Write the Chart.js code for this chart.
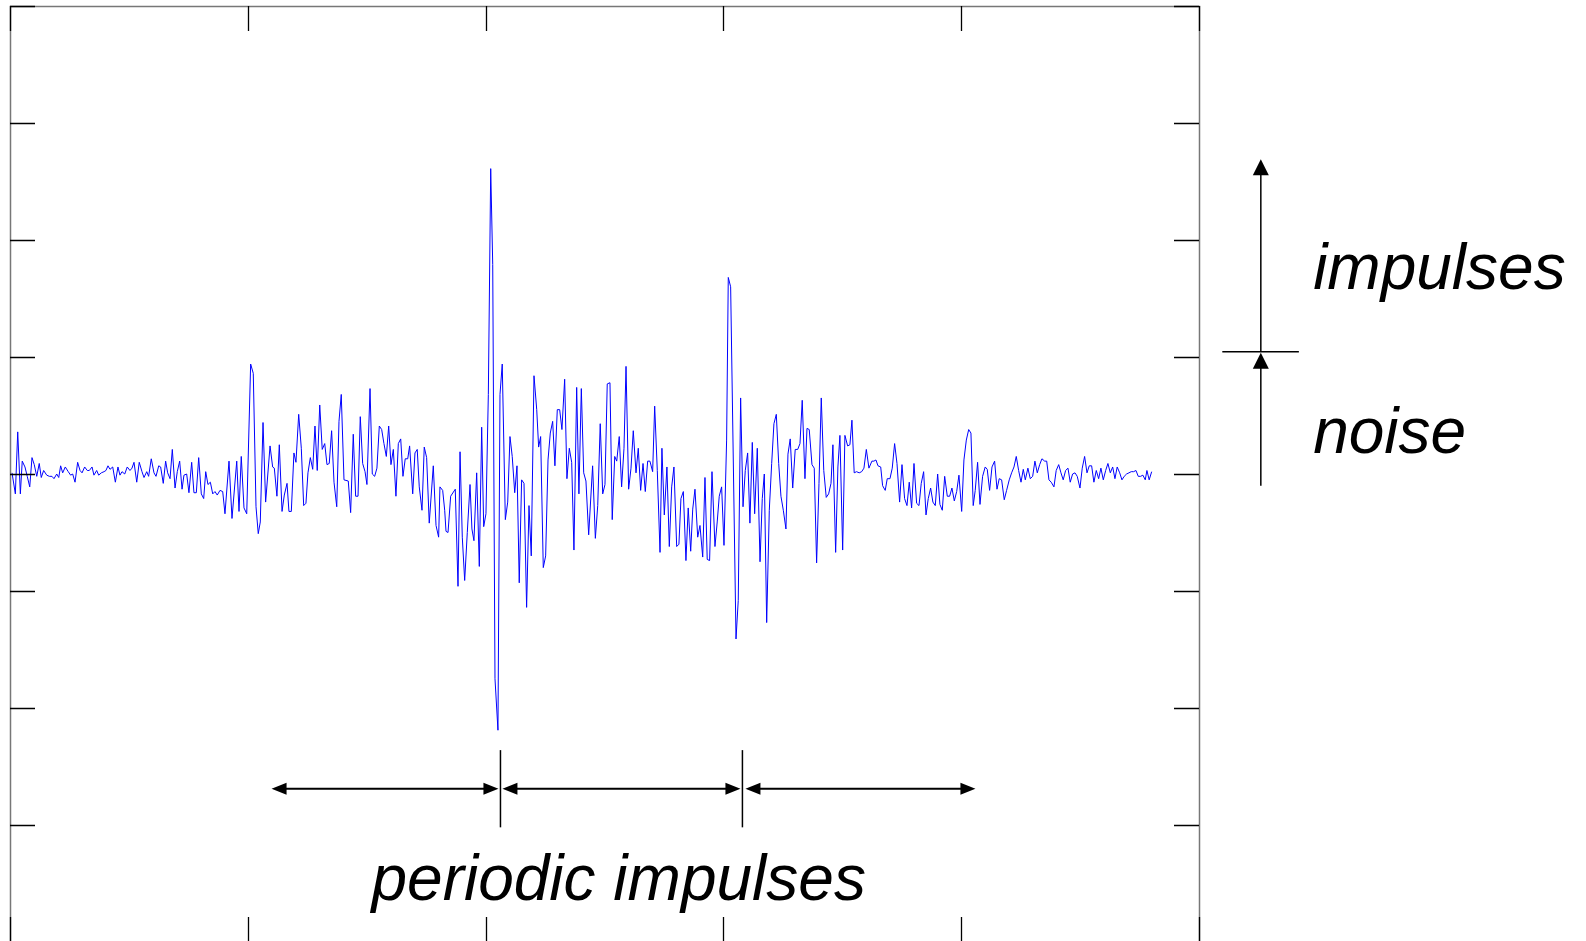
<!DOCTYPE html>
<html>
<head>
<meta charset="utf-8">
<script src="https://cdn.jsdelivr.net/npm/chart.js@4.4.1/dist/chart.umd.min.js"></script>
<style>
html, body { margin: 0; padding: 0; background: #fff; overflow: hidden; }
canvas { display: block; }
</style>
</head>
<body>
<canvas id="signalChart" width="1586" height="944"></canvas>
<script>
// vibration signal: [time, amplitude]
const signal = [
[1.7,0.01],[4.5,-0.17],[6.5,0.36],[8.7,-0.17],[10.3,0.11],[12.6,0.06],[14.5,-0.02],[16.6,-0.11],[18.5,0.14],[20.4,0.08],
[22.5,-0.02],[24.6,0.09],[26.3,-0.03],[28.3,0.03],[30.9,-0.01],[33.1,-0.02],[35.3,-0.02],[37.0,-0.04],[39.3,0.00],[41.0,-0.03],
[42.6,0.07],[44.3,0.01],[46.5,0.06],[49.0,0.02],[51.0,-0.01],[52.7,0.00],[54.7,-0.07],[56.9,0.10],[58.9,0.03],[60.6,0.01],
[62.8,0.06],[65.0,0.03],[66.7,0.03],[69.0,0.06],[70.6,-0.01],[72.9,0.03],[74.6,-0.01],[76.8,0.01],[79.1,0.02],[80.7,0.03],
[82.4,0.07],[84.1,0.04],[86.4,0.06],[88.6,-0.07],[90.8,0.06],[92.5,-0.01],[94.2,0.02],[96.5,0.00],[98.6,0.06],[100.9,0.03],
[102.6,0.05],[104.3,0.10],[106.6,-0.07],[108.7,0.10],[111.0,0.02],[112.7,-0.03],[115.0,0.02],[116.6,-0.02],[118.8,0.13],[121.1,0.01],
[122.8,-0.02],[125.1,0.07],[126.7,0.06],[128.9,-0.08],[130.9,0.11],[132.6,0.01],[134.6,-0.04],[136.5,0.21],[138.8,-0.12],[140.7,0.02],
[142.7,0.11],[144.7,-0.13],[146.3,-0.01],[148.6,0.00],[150.5,-0.16],[152.8,0.10],[154.7,-0.16],[156.7,-0.16],[158.7,0.14],[160.9,-0.17],
[162.9,-0.21],[164.6,0.02],[166.5,-0.09],[168.5,-0.07],[170.5,-0.17],[172.4,-0.15],[174.3,-0.18],[176.6,-0.14],[178.9,-0.15],[180.8,-0.34],
[184.2,0.11],[186.7,-0.38],[190.7,0.11],[192.6,-0.32],[194.5,0.15],[196.8,-0.29],[199.1,-0.34],[202.4,0.94],[204.6,0.86],[206.9,-0.28],
[208.8,-0.51],[210.5,-0.41],[212.8,0.44],[215.0,-0.24],[218.7,0.24],[220.9,0.06],[222.3,0.05],[224.5,-0.19],[226.5,0.25],[228.8,-0.32],
[230.7,-0.18],[233.0,-0.08],[234.6,-0.32],[236.6,-0.32],[238.8,0.18],[240.5,0.10],[242.8,0.51],[245.0,0.22],[247.0,-0.27],[248.9,-0.25],
[250.6,0.01],[252.6,0.14],[254.6,0.04],[256.5,0.41],[258.4,0.03],[260.5,0.59],[262.6,0.21],[264.7,0.26],[266.6,0.08],[268.5,0.09],
[270.5,0.37],[272.5,-0.07],[274.8,-0.28],[276.7,0.45],[278.6,0.68],[280.9,-0.05],[284.5,-0.06],[286.5,-0.33],[288.7,0.34],[290.7,-0.19],
[292.7,-0.19],[294.6,0.49],[296.6,0.09],[298.6,0.02],[300.2,-0.09],[302.8,0.73],[304.7,0.00],[306.7,-0.02],[308.6,0.05],[310.6,0.41],
[312.6,0.38],[314.5,0.26],[316.5,0.15],[318.5,0.41],[320.4,0.08],[322.4,0.21],[324.6,-0.19],[326.6,0.26],[328.6,0.30],[330.5,-0.02],
[332.4,0.13],[334.5,0.13],[336.1,0.24],[338.7,-0.17],[340.6,0.18],[342.5,0.21],[344.2,-0.11],[346.5,-0.31],[348.4,0.23],[350.4,0.14],
[352.6,-0.42],[356.0,0.07],[358.3,-0.44],[360.5,-0.54],[361.6,-0.11],[363.9,-0.14],[365.6,-0.31],[366.7,-0.49],[368.4,-0.50],[370.6,-0.19],
[374.5,-0.13],[376.8,-0.96],[378.5,0.19],[380.4,-0.54],[382.4,-0.91],[384.6,-0.50],[386.9,-0.09],[388.5,-0.47],[390.2,-0.57],[392.5,0.01],
[394.7,-0.79],[396.7,0.40],[398.4,-0.45],[400.3,-0.34],[402.3,0.68],[404.3,2.61],[406.0,1.79],[407.9,-1.75],[410.4,-2.19],[412.1,0.68],
[414.0,0.94],[416.6,-0.39],[418.6,-0.24],[420.5,0.32],[422.4,0.15],[424.5,-0.16],[426.4,0.07],[428.3,-0.93],[430.3,-0.05],[432.3,-0.08],
[434.5,-1.14],[436.5,-0.27],[438.4,-0.70],[440.7,0.84],[443.0,0.55],[444.6,0.23],[446.3,0.32],[448.5,-0.80],[450.5,-0.70],[452.5,0.12],
[454.4,0.35],[456.4,0.45],[458.3,0.07],[460.3,0.55],[462.3,0.55],[464.2,0.38],[466.5,0.81],[468.4,-0.04],[470.4,0.22],[472.4,0.10],
[474.3,-0.65],[476.6,0.74],[478.5,-0.17],[480.5,0.73],[482.5,0.01],[484.4,-0.06],[486.7,-0.52],[490.0,0.07],[492.3,-0.55],[494.3,-0.27],
[496.4,0.43],[498.5,-0.17],[500.4,-0.09],[502.3,0.77],[504.6,0.78],[506.5,-0.39],[508.6,0.15],[510.3,0.11],[512.4,0.32],[514.4,-0.11],
[516.4,0.22],[518.1,0.92],[520.3,-0.13],[522.3,0.05],[524.2,0.37],[526.5,0.01],[528.4,0.22],[530.4,-0.14],[532.4,0.09],[534.3,-0.15],
[536.3,0.11],[538.2,0.11],[540.5,0.02],[542.2,0.58],[544.4,0.03],[546.7,-0.67],[548.3,0.22],[550.3,-0.35],[552.5,0.06],[554.5,-0.62],
[556.5,-0.11],[558.4,0.06],[560.7,-0.62],[562.6,-0.60],[564.3,-0.21],[566.3,-0.15],[568.5,-0.74],[570.4,-0.29],[572.5,-0.66],[574.2,-0.30],
[576.1,-0.13],[578.4,-0.54],[580.3,-0.44],[582.6,-0.71],[584.5,-0.03],[586.4,-0.73],[588.4,-0.74],[590.4,0.02],[592.9,-0.62],[594.8,-0.41],
[596.5,-0.19],[598.5,-0.11],[600.5,-0.61],[602.7,0.29],[604.1,1.68],[606.1,1.60],[610.6,-1.41],[612.5,-1.08],[614.5,0.65],[616.5,-0.28],
[618.4,0.03],[620.4,0.18],[622.3,-0.42],[624.3,0.27],[626.3,-0.34],[628.5,0.22],[630.8,-0.75],[632.7,-0.21],[634.4,0.00],[636.4,-1.27],
[638.6,-0.31],[640.6,0.09],[642.5,0.43],[644.5,0.51],[646.5,0.09],[648.4,-0.19],[650.4,-0.31],[652.6,-0.47],[654.3,0.17],[656.2,0.30],
[658.3,-0.12],[660.4,0.21],[662.5,0.21],[664.4,0.26],[666.3,0.63],[668.6,-0.04],[670.3,0.39],[672.2,0.38],[674.5,0.08],[676.4,0.05],
[678.4,-0.76],[680.4,-0.08],[682.3,0.65],[684.4,0.03],[686.5,-0.20],[688.5,-0.17],[690.5,-0.08],[692.1,0.25],[694.4,-0.67],[696.3,0.06],
[698.0,0.33],[700.3,-0.65],[702.2,0.33],[704.5,0.24],[706.4,0.25],[708.1,0.46],[710.0,0.01],[712.0,0.02],[714.2,0.01],[716.3,0.02],
[718.2,0.05],[720.2,0.21],[722.4,0.05],[724.9,0.11],[726.6,0.11],[728.3,0.12],[730.0,0.07],[732.3,0.06],[733.9,-0.10],[736.1,-0.14],
[737.8,-0.04],[740.1,-0.04],[742.0,0.05],[744.0,0.26],[746.0,0.09],[748.2,-0.24],[750.2,0.08],[752.4,-0.21],[754.4,-0.27],[756.3,-0.07],
[758.3,-0.29],[760.3,0.09],[762.5,-0.25],[764.5,-0.27],[766.4,-0.08],[768.4,0.02],[770.4,-0.35],[772.3,-0.21],[774.3,-0.12],[776.2,-0.24],
[778.2,-0.27],[780.2,0.00],[782.1,-0.26],[784.1,-0.31],[786.1,-0.02],[788.3,-0.19],[790.3,-0.19],[792.2,-0.12],[794.2,-0.23],[796.2,-0.15],
[798.1,-0.01],[800.4,-0.32],[802.3,0.12],[804.3,0.29],[806.3,0.38],[808.2,0.35],[810.1,-0.27],[811.8,-0.14],[813.8,0.10],[815.8,-0.26],
[818.0,-0.02],[820.2,0.06],[821.9,0.04],[823.9,-0.14],[825.9,0.06],[828.1,0.11],[830.1,-0.13],[832.0,-0.04],[834.0,-0.05],[836.2,-0.22],
[838.2,-0.14],[840.4,-0.05],[842.4,0.01],[844.4,0.06],[846.3,0.15],[848.3,0.03],[850.3,-0.07],[852.2,0.04],[853.9,-0.05],[856.1,0.05],
[858.1,-0.04],[860.1,-0.02],[862.0,0.11],[864.0,0.01],[866.0,0.08],[867.9,0.13],[870.2,0.11],[871.9,0.11],[873.8,-0.05],[875.7,-0.07],
[878.0,-0.11],[879.9,0.03],[882.0,0.08],[883.9,0.01],[885.8,-0.05],[887.8,0.03],[889.8,0.05],[891.7,-0.07],[893.7,0.00],[895.7,0.01],
[897.6,-0.02],[899.9,-0.12],[901.8,0.05],[903.8,0.15],[905.8,0.01],[907.7,0.07],[909.7,0.07],[911.6,-0.07],[913.6,0.03],[915.6,-0.04],
[917.5,0.05],[919.5,-0.05],[921.5,0.03],[923.4,0.09],[925.4,0.01],[927.4,0.06],[929.3,-0.04],[931.2,0.06],[933.3,0.01],[935.2,-0.05],
[937.1,-0.02],[939.1,0.00],[941.1,0.01],[943.0,0.02],[945.0,0.02],[947.0,0.03],[948.9,-0.02],[950.9,-0.02],[952.8,-0.01],[954.8,-0.05],
[956.2,0.03],[958.1,-0.05],[960.2,0.02]
];

// axis ticks (no labels shown)
const xTicks = [0, 200, 400, 600, 800, 1000];
const yTicks = [-4, -3, -2, -1, 0, 1, 2, 3, 4];

// period annotation (data units)
const periodMarks = [412.5, 616];
const periodSpan = [220, 812];
const periodLevel = -2.69;
const periodMarkRange = [-2.36, -3.02];

// level annotation on the right
const levelX = 1052;
const levelLine = [1019.6, 1084];
const impulseTop = 2.69;
const noiseTop = 1.045;
const noiseBottom = -0.1;

const labelText = ['impulses', 'noise', 'periodic impulses'];
const labelX = [1096, 1096, 304];
const labelY = [1.58, 0.18, -3.64];

const frameTicks = {
  id: 'frameTicks',
  afterDatasetsDraw(chart) {
    const { ctx, chartArea: a, scales: { x, y } } = chart;
    ctx.save();
    ctx.strokeStyle = '#777';
    ctx.lineWidth = 1.5;
    ctx.strokeRect(a.left + 0.5, a.top + 0.5, a.right - a.left, a.bottom - a.top);

    ctx.strokeStyle = '#000';
    ctx.lineWidth = 1.3;
    ctx.beginPath();
    xTicks.forEach(v => {
      const px = Math.round(x.getPixelForValue(v)) + 0.5;
      ctx.moveTo(px, a.top); ctx.lineTo(px, a.top + 25);
      ctx.moveTo(px, a.bottom); ctx.lineTo(px, a.bottom - 25);
    });
    yTicks.forEach(v => {
      const py = Math.round(y.getPixelForValue(v)) + 0.5;
      ctx.moveTo(a.left, py); ctx.lineTo(a.left + 25, py);
      ctx.moveTo(a.right, py); ctx.lineTo(a.right - 25, py);
    });
    ctx.stroke();
    ctx.restore();
  }
};

// filled arrow head with tip at (tx, ty) pointing along angle
function arrowHead(ctx, tx, ty, angle, len, half) {
  ctx.beginPath();
  ctx.moveTo(tx, ty);
  ctx.lineTo(tx - len * Math.cos(angle) + half * Math.sin(angle), ty - len * Math.sin(angle) - half * Math.cos(angle));
  ctx.lineTo(tx - len * Math.cos(angle) - half * Math.sin(angle), ty - len * Math.sin(angle) + half * Math.cos(angle));
  ctx.closePath();
  ctx.fill();
}

function line(ctx, x1, y1, x2, y2) {
  ctx.beginPath();
  ctx.moveTo(x1, y1);
  ctx.lineTo(x2, y2);
  ctx.stroke();
}

const notes = {
  id: 'notes',
  afterDraw(chart) {
    const { ctx, scales: { x, y } } = chart;
    ctx.save();
    ctx.strokeStyle = '#000';
    ctx.fillStyle = '#000';

    // periodic impulses arrows
    const yl = y.getPixelForValue(periodLevel);
    const m1 = x.getPixelForValue(periodMarks[0]);
    const m2 = x.getPixelForValue(periodMarks[1]);
    const segs = [
      [x.getPixelForValue(periodSpan[0]), m1 - 2],
      [m1 + 2, m2 - 2],
      [m2 + 3, x.getPixelForValue(periodSpan[1])]
    ];
    ctx.lineWidth = 2;
    segs.forEach(([s, e]) => {
      line(ctx, s + 10, yl, e - 10, yl);
      arrowHead(ctx, s, yl, Math.PI, 15, 6);
      arrowHead(ctx, e, yl, 0, 15, 6);
    });
    ctx.lineWidth = 1.5;
    periodMarks.forEach(v => {
      const px = x.getPixelForValue(v);
      line(ctx, px, y.getPixelForValue(periodMarkRange[0]), px, y.getPixelForValue(periodMarkRange[1]));
    });

    // impulse / noise level arrows
    const lx = x.getPixelForValue(levelX);
    const yTop = y.getPixelForValue(impulseTop);
    const yMid = y.getPixelForValue(noiseTop);
    const yBot = y.getPixelForValue(noiseBottom);
    ctx.lineWidth = 1.5;
    line(ctx, lx, yMid, lx, yTop + 10);
    arrowHead(ctx, lx, yTop, -Math.PI / 2, 16, 8);
    line(ctx, lx, yBot, lx, yMid + 10);
    arrowHead(ctx, lx, yMid + 1, -Math.PI / 2, 16, 8);
    line(ctx, x.getPixelForValue(levelLine[0]), yMid, x.getPixelForValue(levelLine[1]), yMid);

    // labels
    ctx.font = 'italic 64px "Liberation Sans", Arial, sans-serif';
    ctx.textBaseline = 'alphabetic';
    ctx.textAlign = 'left';
    labelText.forEach((t, i) => {
      ctx.fillText(t, x.getPixelForValue(labelX[i]), y.getPixelForValue(labelY[i]));
    });
    ctx.restore();
  }
};

new Chart(document.getElementById('signalChart'), {
  type: 'line',
  data: {
    datasets: [{
      data: signal.map(([t, v]) => ({ x: t, y: v })),
      borderColor: '#0000ff',
      borderWidth: 1,
      borderJoinStyle: 'round',
      pointRadius: 0,
      fill: false,
      tension: 0
    }]
  },
  options: {
    responsive: false,
    animation: false,
    events: [],
    layout: { padding: { left: 10, top: 6, right: 387, bottom: 2 } },
    plugins: { legend: { display: false }, tooltip: { enabled: false } },
    scales: {
      x: { type: 'linear', display: false, min: 0, max: 1000 },
      y: { type: 'linear', display: false, min: -4, max: 4 }
    }
  },
  plugins: [frameTicks, notes]
});
</script>
</body>
</html>
